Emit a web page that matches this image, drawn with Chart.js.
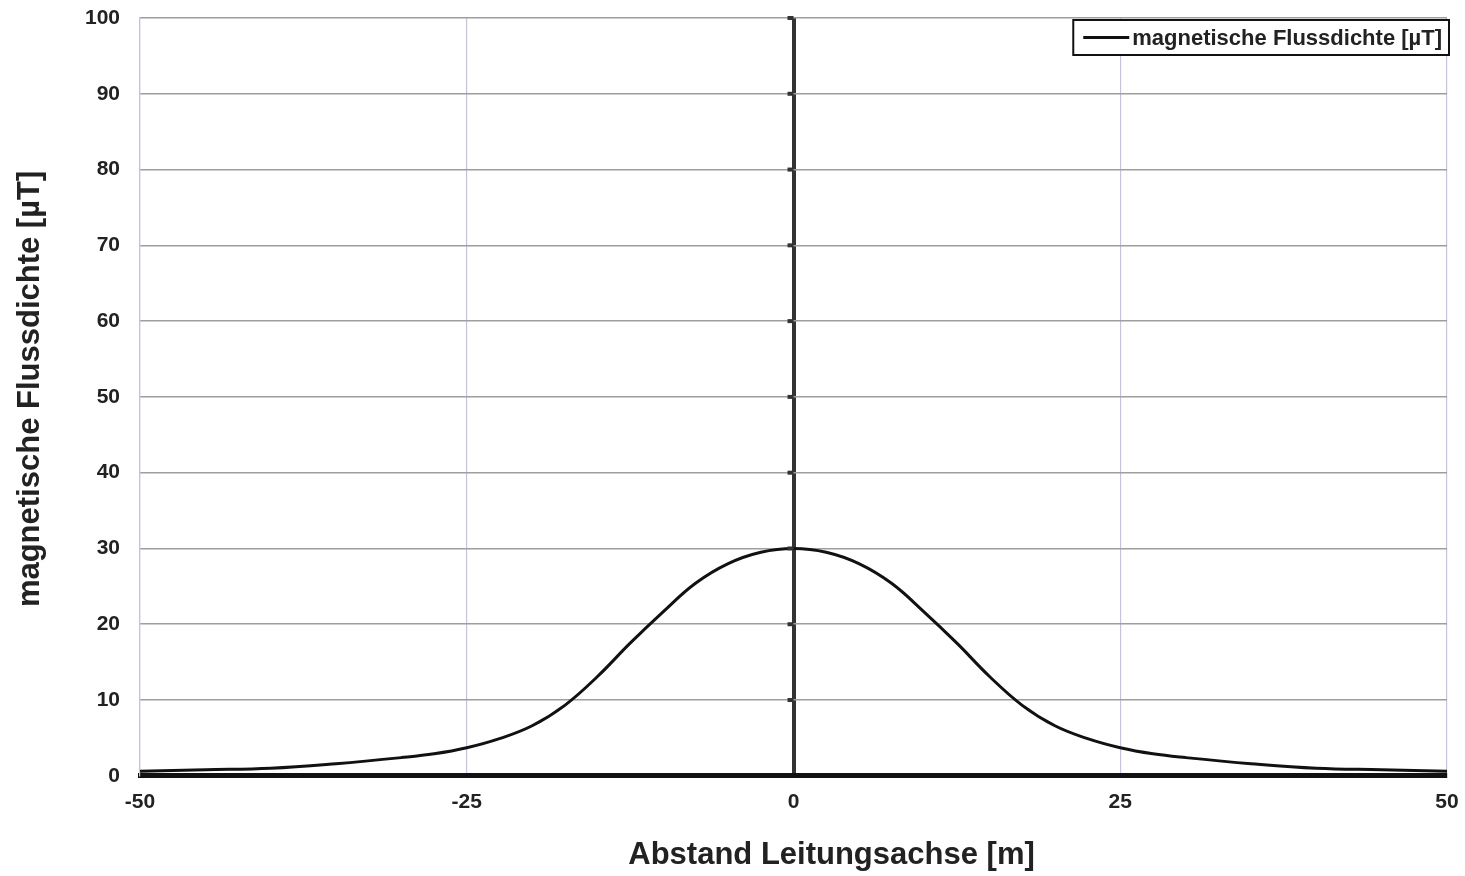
<!DOCTYPE html>
<html>
<head>
<meta charset="utf-8">
<script src="https://cdn.jsdelivr.net/npm/chart.js@4/dist/chart.umd.min.js"></script>
<style>
  html, body { margin: 0; padding: 0; background: #fff; }
  canvas { display: block; }
</style>
</head>
<body>
<canvas id="fluxChart" width="1465" height="876"></canvas>
<script>
// distance to line axis [m]
const distances = [-50, -45, -40, -35, -30, -27.5, -25, -22.5, -20, -17.5, -15, -12.5, -10, -7.5, -5, -2.5,
  0, 2.5, 5, 7.5, 10, 12.5, 15, 17.5, 20, 22.5, 25, 27.5, 30, 35, 40, 45, 50];
// magnetic flux density [µT]
const fluxValues = [0.6, 0.8, 1.0, 1.6, 2.4, 2.9, 3.7, 4.9, 6.6, 9.3, 13.1, 17.5, 21.6, 25.4, 28.0, 29.5,
  30, 29.5, 28.0, 25.4, 21.6, 17.5, 13.1, 9.3, 6.6, 4.9, 3.7, 2.9, 2.4, 1.6, 1.0, 0.8, 0.6];
const xTicks = [-50, -25, 0, 25, 50];
const yTicks = [0, 10, 20, 30, 40, 50, 60, 70, 80, 90, 100];

const seriesLabel = "magnetische Flussdichte [µT]";
const xTitle = "Abstand Leitungsachse [m]";
const yTitle = "magnetische Flussdichte [µT]";
const FONT = "'Liberation Sans', Arial, sans-serif";

// small ticks on the zero line
const zeroLineTicks = {
  id: "zeroLineTicks",
  afterDatasetsDraw(chart) {
    const { ctx, scales: { x, y } } = chart;
    const x0 = x.getPixelForValue(0);
    ctx.save();
    ctx.fillStyle = "#333";
    yTicks.forEach(v => {
      if (v === 0) return;
      const py = y.getPixelForValue(v);
      ctx.fillRect(x0 - 6, py - 2, 6, 4);
    });
    ctx.restore();
  }
};

// axis titles (the original sits a bit off-centre, so drawn by hand)
const axisTitles = {
  id: "axisTitles",
  afterDraw(chart) {
    const { ctx, chartArea } = chart;
    ctx.save();
    ctx.font = "bold 31px " + FONT;
    ctx.fillStyle = "#222";
    ctx.textAlign = "center";
    ctx.textBaseline = "middle";
    ctx.fillText(xTitle, (chartArea.left + chartArea.right) / 2 + 38, chart.height - 21);
    ctx.translate(30, (chartArea.top + chartArea.bottom) / 2 - 8);
    ctx.rotate(-Math.PI / 2);
    ctx.fillText(yTitle, 0, 0);
    ctx.restore();
  }
};

// framed legend inside the plot, top right
const boxedLegend = {
  id: "boxedLegend",
  afterDraw(chart) {
    const { ctx, chartArea } = chart;
    const ds = chart.data.datasets[0];
    ctx.save();
    ctx.font = "bold 22px " + FONT;
    const textW = ctx.measureText(ds.label).width;
    const right = chartArea.right + 2;
    const top = chartArea.top + 2;
    const w = textW + 66;
    const h = 35;
    const left = right - w;
    ctx.fillStyle = "#fff";
    ctx.fillRect(left, top, w, h);
    ctx.strokeStyle = "#111";
    ctx.lineWidth = 2;
    ctx.strokeRect(left, top, w, h);
    ctx.strokeStyle = ds.borderColor;
    ctx.lineWidth = 3;
    ctx.beginPath();
    ctx.moveTo(left + 10, top + h / 2);
    ctx.lineTo(left + 56, top + h / 2);
    ctx.stroke();
    ctx.fillStyle = "#222";
    ctx.textBaseline = "middle";
    ctx.fillText(ds.label, left + 59, top + h / 2 + 1);
    ctx.restore();
  }
};

new Chart(document.getElementById("fluxChart"), {
  type: "line",
  data: {
    labels: distances,
    datasets: [{
      label: seriesLabel,
      data: distances.map((d, i) => ({ x: d, y: fluxValues[i] })),
      borderColor: "#111",
      borderWidth: 3,
      pointRadius: 0,
      tension: 0.4,
      fill: false
    }]
  },
  options: {
    responsive: false,
    animation: false,
    layout: { padding: { left: 65, right: 18, top: 18, bottom: 47 } },
    plugins: {
      legend: { display: false },
      tooltip: { enabled: false }
    },
    scales: {
      x: {
        type: "linear",
        min: -50,
        max: 50,
        afterBuildTicks: axis => { axis.ticks = xTicks.map(v => ({ value: v })); },
        afterFit: axis => { axis.paddingLeft = 0; axis.paddingRight = 0; },
        grid: {
          color: c => c.tick && c.tick.value === 0 ? "#333" : "#c4c4dc",
          lineWidth: c => c.tick && c.tick.value === 0 ? 4 : 1.2,
          drawTicks: false
        },
        border: { color: "#111", width: 5 },
        ticks: {
          color: "#222",
          padding: 14,
          font: { family: FONT, size: 21, weight: "bold" }
        }
      },
      y: {
        min: 0,
        max: 100,
        afterBuildTicks: axis => { axis.ticks = yTicks.map(v => ({ value: v })); },
        afterFit: axis => { axis.paddingTop = 0; axis.paddingBottom = 0; },
        grid: {
          color: c => c.tick && c.tick.value === 0 ? "rgba(0,0,0,0)" : "#9e9e9e",
          lineWidth: 1.5,
          drawTicks: false
        },
        border: { color: "#c4c4dc", width: 1.2 },
        ticks: {
          color: "#222",
          padding: 20,
          font: { family: FONT, size: 21, weight: "bold" }
        }
      }
    }
  },
  plugins: [zeroLineTicks, axisTitles, boxedLegend]
});
</script>
</body>
</html>
